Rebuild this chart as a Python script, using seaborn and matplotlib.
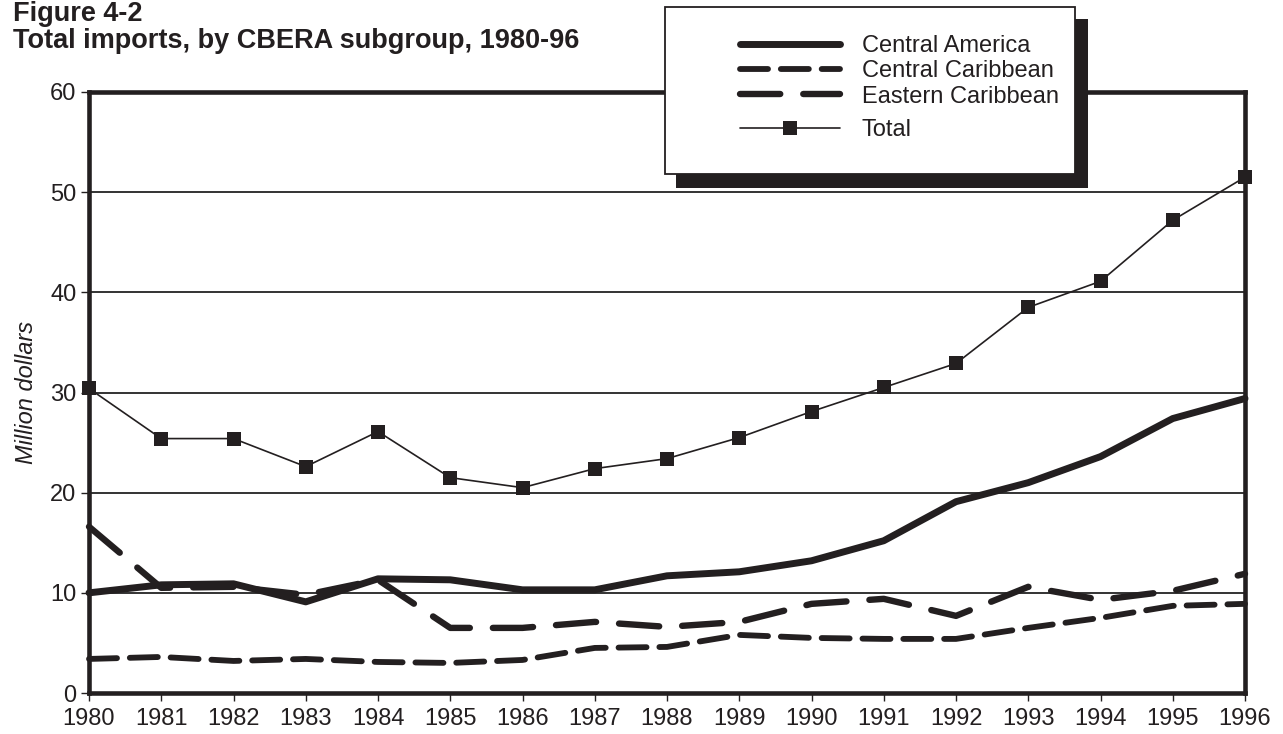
import matplotlib
matplotlib.use("Agg")
import matplotlib.pyplot as plt
import seaborn as sns
from matplotlib.patches import Rectangle

# ---- data ----
years = list(range(1980, 1997))
central_america = [10.0, 10.8, 10.9, 9.1, 11.4, 11.3, 10.3, 10.3, 11.7, 12.1, 13.2, 15.2, 19.1, 21.0, 23.6, 27.4, 29.4]
central_caribbean = [3.4, 3.6, 3.2, 3.4, 3.1, 3.0, 3.3, 4.5, 4.6, 5.8, 5.5, 5.4, 5.4, 6.5, 7.5, 8.7, 8.9]
eastern_caribbean = [16.6, 10.5, 10.6, 9.8, 11.3, 6.5, 6.5, 7.1, 6.6, 7.1, 8.9, 9.4, 7.7, 10.6, 9.3, 10.2, 11.9]
total = [30.4, 25.4, 25.4, 22.6, 26.1, 21.5, 20.5, 22.4, 23.4, 25.5, 28.1, 30.5, 32.9, 38.5, 41.1, 47.2, 51.5]
series_names = ["Central America", "Central Caribbean", "Eastern Caribbean", "Total"]
y_ticks = [0, 10, 20, 30, 40, 50, 60]
title_1 = "Figure 4-2"
title_2 = "Total imports, by CBERA subgroup, 1980-96"
y_label = "Million dollars"

sns.set_theme(style="white")
plt.rcParams["font.family"] = ["Liberation Sans", "DejaVu Sans"]

W, H = 1283, 734
INK = "#231f20"
fig = plt.figure(figsize=(W / 100, H / 100), dpi=100)
ax = fig.add_axes([89 / W, 1 - 693 / H, (1245 - 89) / W, (693 - 92) / H])

handles = []
sns.lineplot(x=years, y=central_america, ax=ax, color=INK, lw=5.0, errorbar=None,
             solid_capstyle="round", solid_joinstyle="round", clip_on=False, zorder=3)
handles.append(ax.lines[-1])
sns.lineplot(x=years, y=central_caribbean, ax=ax, color=INK, lw=4.2, errorbar=None,
             linestyle=(0, (4.8, 2.2)), dash_capstyle="round", dash_joinstyle="round",
             clip_on=False, zorder=3)
handles.append(ax.lines[-1])
sns.lineplot(x=years, y=eastern_caribbean, ax=ax, color=INK, lw=4.6, errorbar=None,
             linestyle=(0, (6.3, 3.6)), dash_capstyle="round", dash_joinstyle="round",
             clip_on=False, zorder=3)
handles.append(ax.lines[-1])
sns.lineplot(x=years, y=total, ax=ax, color=INK, lw=1.2, errorbar=None,
             marker="s", markersize=10, markeredgewidth=0, clip_on=False, zorder=4)
handles.append(ax.lines[-1])
if ax.get_legend() is not None:
    ax.get_legend().remove()

ax.set_xlim(years[0], years[-1])
ax.set_ylim(y_ticks[0], y_ticks[-1])
ax.set_xticks(years)
ax.set_xticklabels([str(y) for y in years])
ax.set_yticks(y_ticks)
ax.yaxis.grid(True, color="#333333", lw=1.4)
ax.xaxis.grid(False)
ax.set_axisbelow(True)
for s in ax.spines.values():
    s.set_color(INK)
    s.set_linewidth(3.3)
    s.set_visible(True)
ax.tick_params(axis="both", which="both", direction="out", length=6, width=1,
               color=INK, labelcolor=INK, labelsize=17, bottom=True, left=True, pad=3)
ax.tick_params(axis="x", pad=5)
ax.set_ylabel(y_label, fontstyle="italic", fontsize=17, color=INK, labelpad=9)
ax.set_xlabel("")

# titles
fig.text(13 / W, 1 - 21 / H, title_1, fontsize=19.5, fontweight="bold", color=INK,
         ha="left", va="baseline")
fig.text(13 / W, 1 - 48 / H, title_2, fontsize=19.5, fontweight="bold", color=INK,
         ha="left", va="baseline")

# legend box with shadow
def px_rect(x0, y0, x1, y1, **kw):
    return Rectangle((x0 / W, 1 - y1 / H), (x1 - x0) / W, (y1 - y0) / H,
                     transform=fig.transFigure, **kw)

fig.patches.append(px_rect(676, 19, 1088, 188, facecolor=INK, edgecolor="none", zorder=3))
fig.patches.append(px_rect(665, 7, 1075, 174, facecolor="white", edgecolor=INK, lw=1.3, zorder=3.5))

fs = 17
em = fs * 100 / 72
common = dict(loc="upper left", frameon=False, borderpad=0, borderaxespad=0,
              fontsize=fs, handlelength=100 / em, handletextpad=22 / em)
leg1 = fig.legend(handles[:3], series_names[:3], bbox_to_anchor=(740 / W, 1 - 35 / H),
                  labelspacing=0.14, **common)
leg2 = fig.legend(handles[3:], series_names[3:], bbox_to_anchor=(740 / W, 1 - 119 / H),
                  **common)
for lg in (leg1, leg2):
    lg.set_zorder(5)
    for t in lg.get_texts():
        t.set_color(INK)

fig.savefig("out.png", dpi=100)
